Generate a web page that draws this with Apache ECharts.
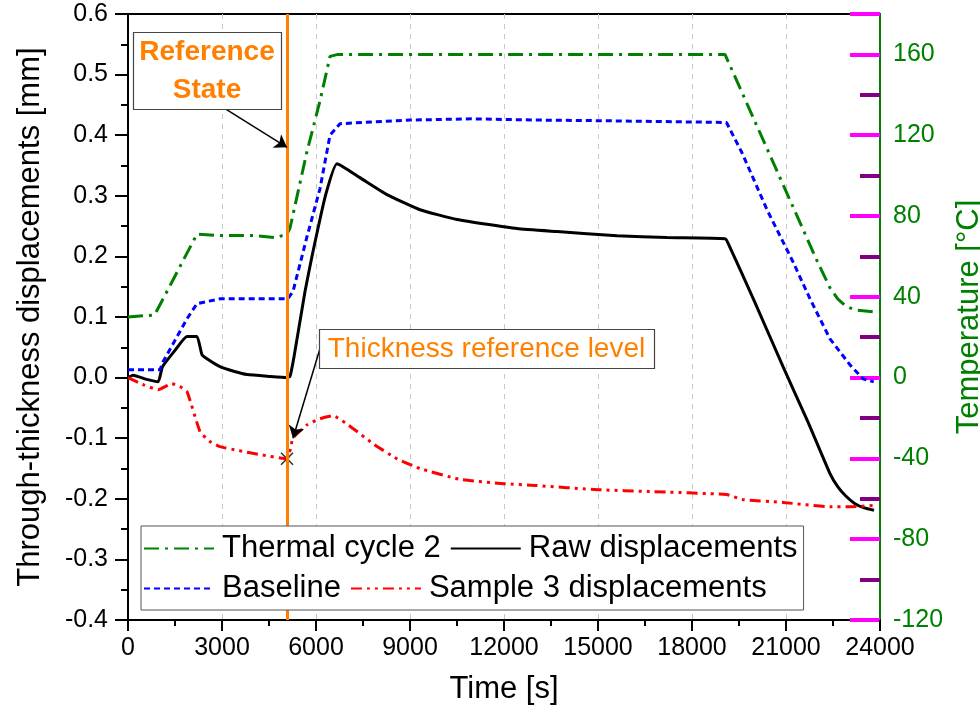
<!DOCTYPE html>
<html><head><meta charset="utf-8">
<script src="https://cdn.jsdelivr.net/npm/echarts@6/dist/echarts.min.js"></script>
<style>html,body{margin:0;padding:0;background:#fff}#c{width:980px;height:715px}</style>
</head><body><div id="c"></div>
<script>
const FONT = "'Liberation Sans', Arial, Helvetica, sans-serif";

// ---- data (time in s) ----
const thermalTime = [0, 850, 2200, 3000, 4000, 4700, 5075, 5170, 5713, 6128, 6447, 6700, 9000, 12000, 15000, 19053, 20905, 22000, 22400, 22650, 22900, 23200, 23800];
const thermalTemp = [30, 31, 71, 70.3, 70.3, 69.3, 71, 74, 112, 137, 159, 160, 160, 160, 160, 160, 95.6, 57.5, 44.5, 39, 35.5, 33.5, 32.5];

const rawTime = [0, 160, 600, 960, 1100, 1500, 1880, 2200, 2360, 2520, 2936, 3400, 3800, 4500, 5075, 5170, 5300, 5649, 5904, 6300, 6670, 7400, 8266, 9319, 10500, 12415, 13692, 15606, 17202, 19053, 19150, 20000, 20905, 21700, 22400, 22650, 22900, 23200, 23500, 23808];
const rawVal  = [0, 0.004, -0.003, -0.007, 0.018, 0.045, 0.068, 0.068, 0.038, 0.031, 0.018, 0.01, 0.005, 0.002, 0, 0.002, 0.035, 0.142, 0.208, 0.3, 0.353, 0.33, 0.302, 0.277, 0.261, 0.246, 0.241, 0.234, 0.231, 0.229, 0.222, 0.125, 0.018, -0.073, -0.158, -0.18, -0.195, -0.208, -0.215, -0.219];

const baseTime = [0, 1020, 1117, 1883, 2202, 2936, 5100, 5266, 5700, 6128, 6447, 6766, 9000, 11000, 13000, 15000, 19100, 19596, 20394, 21223, 21766, 22404, 23042, 23457, 23800];
const baseVal  = [0.013, 0.013, 0.026, 0.097, 0.122, 0.13, 0.13, 0.142, 0.23, 0.312, 0.40, 0.419, 0.425, 0.427, 0.425, 0.424, 0.421, 0.371, 0.277, 0.191, 0.13, 0.064, 0.021, -0.002, -0.007];

const sampleTime = [0, 500, 960, 1404, 1660, 1883, 2298, 2600, 2936, 3500, 4200, 5075, 5266, 5713, 6128, 6543, 7181, 7819, 8585, 9319, 10600, 12000, 13000, 15000, 16660, 19100, 19596, 20905, 22404, 23042, 23808];
const sampleVal  = [0, -0.012, -0.02, -0.01, -0.015, -0.023, -0.089, -0.105, -0.114, -0.12, -0.127, -0.134, -0.1, -0.078, -0.068, -0.063, -0.084, -0.109, -0.134, -0.15, -0.168, -0.175, -0.178, -0.185, -0.188, -0.193, -0.201, -0.206, -0.213, -0.213, -0.211];

const seriesNames = ['Thermal cycle 2', 'Raw displacements', 'Baseline', 'Sample 3 displacements'];

// tick values
const xTickValues = [0, 3000, 6000, 9000, 12000, 15000, 18000, 21000, 24000];
const leftTickValues = [-0.4, -0.3, -0.2, -0.1, 0.0, 0.1, 0.2, 0.3, 0.4, 0.5, 0.6];
const rightTickValues = [-120, -80, -40, 0, 40, 80, 120, 160];
const rightMax = 180;

// annotations (data space)
const refTime = 5075;
const refStateBox = [160, 0.571, 4883, 0.444];
const refStateArrow = [3096, 0.444, 5075, 0.380];
const thickBox = [6096, 0.081, 16787, 0.0165];
const thickArrow = [6128, 0.048, 5266, -0.1];
const xMark = [5075, -0.134];

const zip = (a, b) => a.map((t, i) => [t, b[i]]);
const xMax = xTickValues[xTickValues.length - 1];

const chart = echarts.init(document.getElementById('c'));

const option = {
  animation: false,
  backgroundColor: '#fff',
  textStyle: {fontFamily: FONT},
  grid: {left: 128, right: 100, top: 14, bottom: 95, outerBoundsMode: 'none',
    show: true, borderColor: '#000', borderWidth: 2, backgroundColor: 'transparent'},
  legend: {
    data: seriesNames,
    left: 141, top: 526,
    width: 672,
    padding: [7, 6, 6, 2],
    itemGap: 9,
    itemWidth: 70, itemHeight: 14,
    backgroundColor: '#fff',
    borderColor: '#555', borderWidth: 1,
    itemStyle: {opacity: 0},
    textStyle: {fontSize: 31, color: '#000', fontFamily: FONT, lineHeight: 30, padding: [0, 0, 0, 3]},
    z: 10
  },
  xAxis: {
    type: 'value', position: 'bottom',
    min: xTickValues[0], max: xMax, interval: 3000,
    axisLine: {onZero: false, lineStyle: {color: '#000', width: 2}},
    axisTick: {show: true, length: 11, lineStyle: {width: 2, color: '#000'}},
    minorTick: {show: true, splitNumber: 2, length: 6, lineStyle: {width: 2, color: '#000'}},
    axisLabel: {fontSize: 25, color: '#000', margin: 16, fontFamily: FONT, formatter: v => String(v)},
    splitLine: {show: true, lineStyle: {color: '#c8c8c8', type: [5, 5], width: 1}},
    name: 'Time [s]', nameLocation: 'middle', nameGap: 54,
    nameTextStyle: {fontSize: 31, color: '#000', fontFamily: FONT}
  },
  yAxis: [{
    type: 'value', position: 'left',
    min: leftTickValues[0], max: leftTickValues[leftTickValues.length - 1], interval: 0.1,
    axisLine: {show: true, onZero: false, lineStyle: {color: '#000', width: 2}},
    axisTick: {show: true, length: 13, lineStyle: {width: 2, color: '#000'}},
    minorTick: {show: true, splitNumber: 2, length: 7, lineStyle: {width: 2, color: '#000'}},
    axisLabel: {fontSize: 25, color: '#000', margin: 20, fontFamily: FONT,
      formatter: v => (Math.abs(v) < 1e-9 ? 0 : v).toFixed(1)},
    splitLine: {show: false},
    name: 'Through-thickness displacements [mm]', nameLocation: 'middle', nameGap: 82, nameRotate: 90,
    nameTextStyle: {fontSize: 31, color: '#000', fontFamily: FONT}
  }, {
    type: 'value', position: 'right',
    min: rightTickValues[0], max: rightMax, interval: 40,
    axisLine: {show: true, onZero: false, lineStyle: {color: '#008000', width: 2}},
    axisTick: {show: true, inside: true, length: 30, lineStyle: {width: 4, color: 'magenta'}},
    minorTick: {show: true, splitNumber: 2, length: 20, lineStyle: {width: 4, color: 'purple'}},
    axisLabel: {fontSize: 25, color: '#008000', margin: 13, fontFamily: FONT,
      formatter: v => (v > rightTickValues[rightTickValues.length - 1] ? '' : String(v))},
    splitLine: {show: false},
    name: 'Temperature [°C]', nameLocation: 'middle', nameGap: 66, nameRotate: 90,
    nameTextStyle: {fontSize: 31, color: '#008000', fontFamily: FONT}
  }],
  series: [{
    name: seriesNames[0], type: 'line', xAxisIndex: 0, yAxisIndex: 1,
    data: zip(thermalTime, thermalTemp), symbol: 'none', smooth: false,
    lineStyle: {color: '#008000', width: 3, type: [15, 6, 3, 6]}, itemStyle: {color: '#008000'}
  }, {
    name: seriesNames[1], type: 'line', xAxisIndex: 0, yAxisIndex: 0,
    data: zip(rawTime, rawVal), symbol: 'none', smooth: 0.15,
    lineStyle: {color: '#000', width: 3, type: 'solid'}, itemStyle: {color: '#000'},
    markLine: {
      silent: true, symbol: 'none', animation: false,
      label: {show: false},
      lineStyle: {color: '#ff8000', width: 3, type: 'solid'},
      emphasis: {disabled: true},
      data: [{xAxis: refTime}]
    }
  }, {
    name: seriesNames[2], type: 'line', xAxisIndex: 0, yAxisIndex: 0,
    data: zip(baseTime, baseVal), symbol: 'none', smooth: false,
    lineStyle: {color: '#0000ff', width: 3, type: [6, 4]}, itemStyle: {color: '#0000ff'}
  }, {
    name: seriesNames[3], type: 'line', xAxisIndex: 0, yAxisIndex: 0,
    data: zip(sampleTime, sampleVal), symbol: 'none', smooth: 0.15,
    lineStyle: {color: '#ff0000', width: 3, type: [11, 5, 3, 5, 3, 5]}, itemStyle: {color: '#ff0000'},
    markLine: {
      silent: true, symbol: ['none', 'arrow'], symbolSize: 12, animation: false,
      label: {show: false},
      lineStyle: {color: '#000', width: 1.5, type: 'solid'},
      emphasis: {disabled: true},
      data: [
        [{coord: [refStateArrow[0], refStateArrow[1]]}, {coord: [refStateArrow[2], refStateArrow[3]]}],
        [{coord: [thickArrow[0], thickArrow[1]]}, {coord: [thickArrow[2], thickArrow[3]]}]
      ]
    }
  }, {
    name: 'mark', type: 'scatter', xAxisIndex: 0, yAxisIndex: 0,
    data: [xMark], symbol: 'path://M0,0L10,10M10,0L0,10', symbolSize: 12,
    itemStyle: {color: 'none', borderColor: '#000', borderWidth: 1.6}, silent: true
  }]
};

chart.setOption(option);

function px(t, v) { return chart.convertToPixel({xAxisIndex: 0, yAxisIndex: 0}, [t, v]); }
function boxGraphic(box, text, bold) {
  const a = px(box[0], box[1]), b = px(box[2], box[3]);
  return [{
    type: 'rect', z: 20,
    shape: {x: Math.round(a[0]) + 0.5, y: Math.round(a[1]) + 0.5, width: Math.round(b[0] - a[0]), height: Math.round(b[1] - a[1])},
    style: {fill: '#fff', stroke: '#444', lineWidth: 1.2}
  }, {
    type: 'text', z: 21,
    style: {
      text: text, x: (a[0] + b[0]) / 2, y: (a[1] + b[1]) / 2 + 1,
      fill: '#ff8000', fontSize: 28, fontWeight: bold ? 'bold' : 'normal', fontFamily: FONT,
      align: 'center', verticalAlign: 'middle', lineHeight: 38
    }
  }];
}
chart.setOption({
  graphic: [].concat(
    boxGraphic(refStateBox, 'Reference\nState', true),
    boxGraphic(thickBox, 'Thickness reference level', false)
  )
});
</script></body></html>
